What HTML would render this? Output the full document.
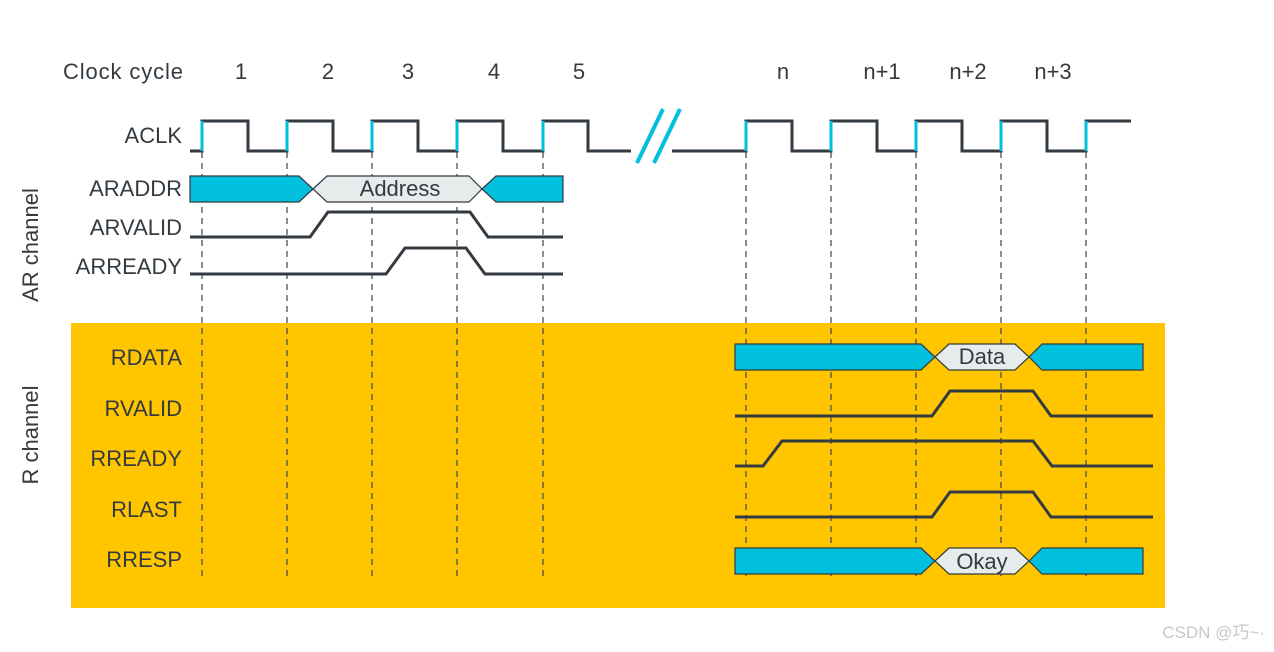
<!DOCTYPE html>
<html><head><style>
html,body{margin:0;padding:0;background:#fff;}
svg{display:block;}
text{font-family:"Liberation Sans",sans-serif;fill:#333a40;}
</style></head><body>
<svg width="1274" height="652" viewBox="0 0 1274 652" xmlns="http://www.w3.org/2000/svg">
<rect x="71" y="323" width="1094" height="285" fill="#ffc600"/>
<g font-size="22">
<text x="63" y="79" textLength="120">Clock cycle</text>
<text x="241" y="79" text-anchor="middle">1</text>
<text x="328" y="79" text-anchor="middle">2</text>
<text x="408" y="79" text-anchor="middle">3</text>
<text x="494" y="79" text-anchor="middle">4</text>
<text x="579" y="79" text-anchor="middle">5</text>
<text x="783" y="79" text-anchor="middle">n</text>
<text x="882" y="79" text-anchor="middle">n+1</text>
<text x="968" y="79" text-anchor="middle">n+2</text>
<text x="1053" y="79" text-anchor="middle">n+3</text>
</g>
<g font-size="22" text-anchor="end">
<text x="182" y="143">ACLK</text>
<text x="182" y="196">ARADDR</text>
<text x="182" y="235">ARVALID</text>
<text x="182" y="274">ARREADY</text>
<text x="182" y="365">RDATA</text>
<text x="182" y="416">RVALID</text>
<text x="182" y="466">RREADY</text>
<text x="182" y="517">RLAST</text>
<text x="182" y="567">RRESP</text>
</g>
<g font-size="22" text-anchor="middle">
<text transform="translate(38,245) rotate(-90)">AR channel</text>
<text transform="translate(38,435) rotate(-90)">R channel</text>
</g>
<g stroke="#4a4f55" stroke-width="1.3" stroke-dasharray="6,5">
<line x1="202" y1="152" x2="202" y2="580"/><line x1="287" y1="152" x2="287" y2="580"/>
<line x1="372" y1="152" x2="372" y2="580"/><line x1="457" y1="152" x2="457" y2="580"/>
<line x1="543" y1="152" x2="543" y2="580"/><line x1="746" y1="152" x2="746" y2="580"/>
<line x1="831" y1="152" x2="831" y2="580"/><line x1="916" y1="152" x2="916" y2="580"/>
<line x1="1001" y1="152" x2="1001" y2="580"/><line x1="1086" y1="152" x2="1086" y2="580"/>
</g>
<g fill="none" stroke="#333a40" stroke-width="3">
<path d="M190 151H202V121H248V151H287V121H333V151H372V121H418V151H457V121H503V151H543V121H588V151H631"/>
<path d="M672 151H746V121H792V151H831V121H877V151H916V121H962V151H1001V121H1047V151H1086V121H1131"/>
<path d="M190 237H310L328 212H470L488 237H563"/>
<path d="M190 274H386L405 248H466L485 274H563"/>
<path d="M735 416H932L950 391H1033L1051 416H1153"/>
<path d="M735 466H763L782 441H1033L1052 466H1153"/>
<path d="M735 517H932L950 492H1033L1051 517H1153"/>
</g>
<g stroke="#00c0de" stroke-width="3">
<line x1="202" y1="121" x2="202" y2="151"/><line x1="287" y1="121" x2="287" y2="151"/>
<line x1="372" y1="121" x2="372" y2="151"/><line x1="457" y1="121" x2="457" y2="151"/>
<line x1="543" y1="121" x2="543" y2="151"/><line x1="746" y1="121" x2="746" y2="151"/>
<line x1="831" y1="121" x2="831" y2="151"/><line x1="916" y1="121" x2="916" y2="151"/>
<line x1="1001" y1="121" x2="1001" y2="151"/><line x1="1086" y1="121" x2="1086" y2="151"/>
<line x1="637" y1="163" x2="663" y2="109" stroke-width="4"/>
<line x1="654" y1="163" x2="680" y2="109" stroke-width="4"/>
</g>
<g stroke="#333a40" stroke-width="1.2">
<path d="M190 176H299L313 189L299 202H190Z" fill="#00c0de"/>
<path d="M313 189L327 176H469L482 189L469 202H327Z" fill="#e6ebeb"/>
<path d="M563 176H496L482 189L496 202H563Z" fill="#00c0de"/>
<path d="M735 344H921L935 357L921 370H735Z" fill="#00c0de"/>
<path d="M935 357L949 344H1015L1029 357L1015 370H949Z" fill="#e6ebeb"/>
<path d="M1143 344H1042L1029 357L1042 370H1143Z" fill="#00c0de"/>
<path d="M735 548H921L935 561L921 574H735Z" fill="#00c0de"/>
<path d="M935 561L949 548H1015L1029 561L1015 574H949Z" fill="#e6ebeb"/>
<path d="M1143 548H1042L1029 561L1042 574H1143Z" fill="#00c0de"/>
</g>
<g font-size="22" text-anchor="middle">
<text x="400" y="196">Address</text>
<text x="982" y="364">Data</text>
<text x="982" y="569">Okay</text>
</g>
<text x="1265" y="638" font-size="17" text-anchor="end" style="fill:#c8c8c8">CSDN @巧~·</text>
</svg>
</body></html>
